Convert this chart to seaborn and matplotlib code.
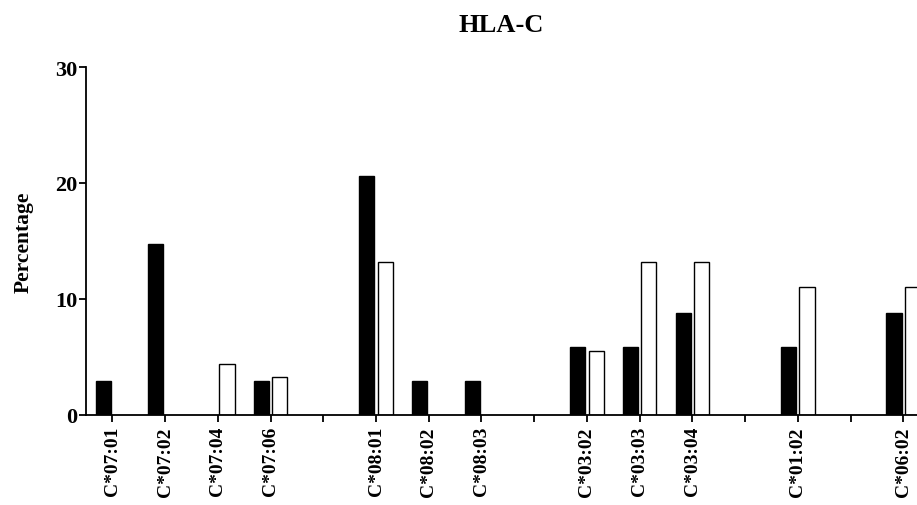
import numpy as np
import pandas as pd
import matplotlib
matplotlib.use("Agg")
import matplotlib.pyplot as plt
import seaborn as sns

# Allele slots along the x axis; blank entries leave a spacer between allele groups
alleles = ["C*07:01", "C*07:02", "C*07:04", "C*07:06", "",
           "C*08:01", "C*08:02", "C*08:03", " ",
           "C*03:02", "C*03:03", "C*03:04", "  ",
           "C*01:02", "   ",
           "C*06:02"]

# Percentages per allele (NaN = no bar)
cases = [2.9, 14.7, np.nan, 2.9, np.nan,
         20.6, 2.9, 2.9, np.nan,
         5.9, 5.9, 8.8, np.nan,
         5.9, np.nan,
         8.8]
controls = [np.nan, np.nan, 4.4, 3.3, np.nan,
            13.2, np.nan, np.nan, np.nan,
            5.5, 13.2, 13.2, np.nan,
            11.0, np.nan,
            11.0]

groups = ["Cases", "Controls"]
y_ticks = [0, 10, 20, 30]

df = pd.DataFrame({
    "allele": alleles * 2,
    "pct": cases + controls,
    "group": [groups[0]] * len(alleles) + [groups[1]] * len(alleles),
})

sns.set_style("ticks")
plt.rcParams["font.family"] = ["Liberation Serif", "DejaVu Serif"]
plt.rcParams["font.weight"] = "bold"
plt.rcParams["text.color"] = "black"
plt.rcParams["axes.labelcolor"] = "black"
plt.rcParams["xtick.color"] = "black"
plt.rcParams["ytick.color"] = "black"

fig = plt.figure(figsize=(9.17, 5.06), dpi=100)
ax = fig.add_axes([0.0938, 0.1779, 0.9062, 0.6877])

sns.barplot(data=df, x="allele", y="pct", hue="group",
            order=alleles, hue_order=groups,
            palette={groups[0]: "black", groups[1]: "white"},
            edgecolor="black", linewidth=1.0,
            width=0.7, gap=0.18, legend=False, ax=ax)

ax.set_xlim(-0.5, 15.26)
ax.set_ylim(0, 30)
ax.set_yticks(y_ticks)
ax.set_yticklabels([str(t) for t in y_ticks], fontsize=16, fontweight="bold")
ax.set_xticks(range(len(alleles)))
ax.set_xticklabels(alleles, rotation=90, fontsize=14, fontweight="bold")
ax.set_xlabel("")
ax.set_ylabel("Percentage", fontsize=15.5, fontweight="bold", labelpad=16)
ax.set_title("HLA-C", fontsize=19, fontweight="bold", pad=26, color="black")

for side in ("top", "right"):
    ax.spines[side].set_visible(False)
for side in ("left", "bottom"):
    ax.spines[side].set_linewidth(1.3)
    ax.spines[side].set_color("black")
ax.tick_params(axis="both", direction="out", length=5, width=1.3, color="black",
               labelcolor="black")
ax.tick_params(axis="y", pad=1)
ax.tick_params(axis="x", pad=3)

fig.savefig("out.png", dpi=100, facecolor="white")
